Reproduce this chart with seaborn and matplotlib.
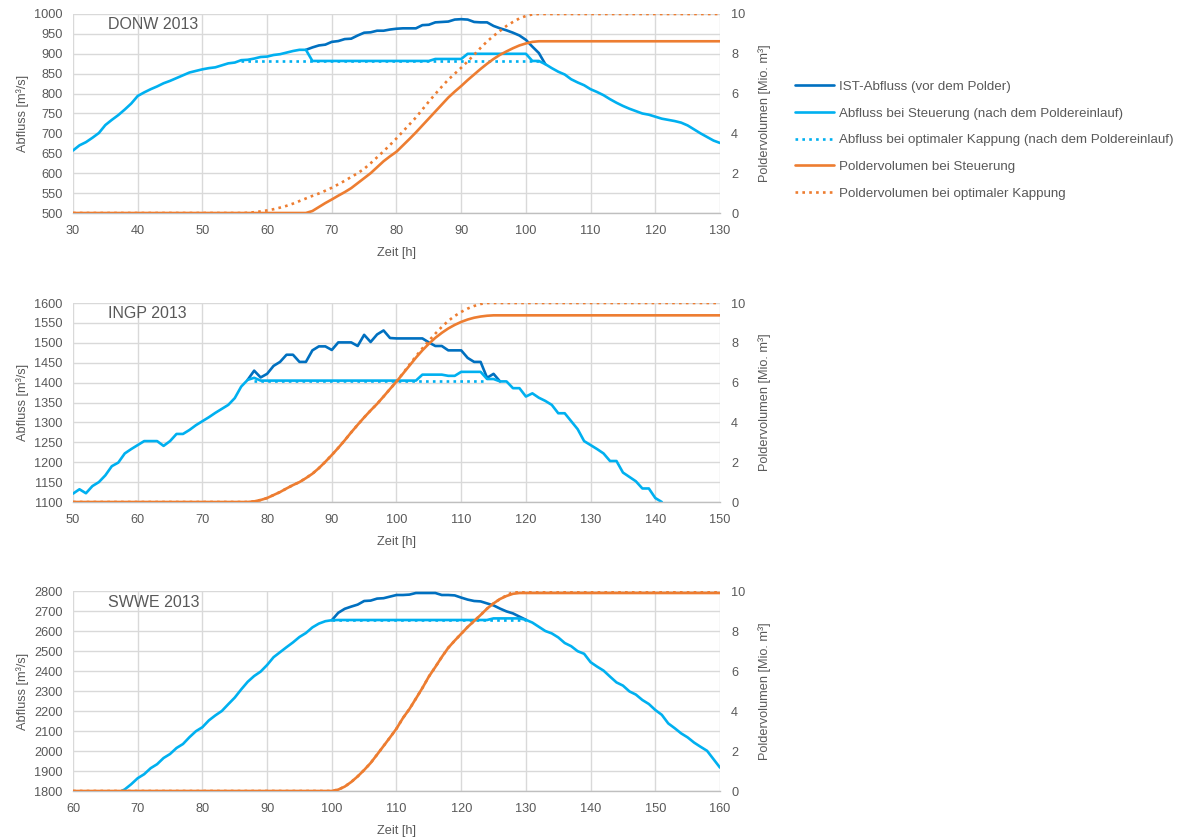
import matplotlib
matplotlib.use("Agg")
import matplotlib.pyplot as plt
import seaborn as sns

# ---------------------------------------------------------------------------
# Hydrograph data (hourly), three flood events 2013
# q = discharge [m³/s], v = polder volume [Mio. m³]
# ---------------------------------------------------------------------------

# DONW 2013
donw_steu_h = list(range(30, 67)) + [67, 85, 86, 90, 91, 100, 101] + list(range(102, 131))
donw_steu_q = [657, 670, 678, 689, 701, 721, 734, 746, 760, 775, 794, 803, 811, 818, 826,
               832, 839, 846, 853, 857, 861, 864, 866, 871, 876, 878, 884, 885, 888, 892,
               893, 897, 899, 903, 907, 910, 910,
               882, 882, 887, 887, 900, 900, 882,
               882, 874, 864, 855, 848, 836, 828, 821, 811, 804, 796, 786, 777, 769, 762,
               756, 750, 747, 742, 737, 734, 731, 727, 720, 710, 700, 691, 682, 676]
donw_ist_h = list(range(66, 104))
donw_ist_q = [910, 916, 921, 923, 930, 932, 937, 938, 946, 953, 954, 958, 958, 961, 963,
              964, 964, 964, 972, 973, 979, 980, 981, 986, 987, 986, 980, 979, 979, 970,
              964, 959, 953, 946, 935, 918, 902, 874]
donw_kapp_h = [56, 102]
donw_kapp_q = [882, 882]
donw_vsteu_h = [30, 66] + list(range(67, 103)) + [130]
donw_vsteu_v = [0, 0,
                0.1, 0.3, 0.5, 0.68, 0.87, 1.05, 1.25, 1.5, 1.75, 2.0, 2.3, 2.6, 2.85, 3.08,
                3.4, 3.72, 4.05, 4.4, 4.75, 5.1, 5.45, 5.8, 6.1, 6.38, 6.68, 6.96, 7.24, 7.5,
                7.74, 7.95, 8.12, 8.28, 8.42, 8.52, 8.6, 8.63,
                8.63]
donw_vkapp_h = [30, 56] + list(range(57, 103)) + [130]
donw_vkapp_v = [0, 0,
                0.01, 0.04, 0.08, 0.13, 0.19, 0.27, 0.36, 0.47, 0.6, 0.73, 0.86, 0.98, 1.12,
                1.27, 1.44, 1.62, 1.81, 2.0, 2.22, 2.5, 2.8, 3.1, 3.42, 3.75, 4.1, 4.45, 4.8,
                5.2, 5.6, 5.98, 6.35, 6.7, 7.0, 7.3, 7.62, 7.95, 8.3, 8.62, 8.9, 9.15, 9.4,
                9.6, 9.78, 9.9, 9.98, 10.0,
                10.0]

# INGP 2013
ingp_steu_h = list(range(50, 80)) + [103, 104, 107, 108, 109, 110, 113] + list(range(114, 142))
ingp_steu_q = [1121, 1132, 1122, 1140, 1150, 1167, 1190, 1199, 1222, 1233, 1243, 1253, 1253,
               1253, 1241, 1253, 1271, 1271, 1281, 1293, 1303, 1313, 1324, 1334, 1344, 1361,
               1390, 1407, 1412, 1405,
               1405, 1420, 1420, 1417, 1417, 1427, 1427,
               1409, 1409, 1403, 1403, 1386, 1386, 1365, 1373, 1362, 1354, 1344, 1323, 1323,
               1303, 1283, 1253, 1243, 1233, 1222, 1203, 1203, 1174, 1163, 1152, 1134, 1134,
               1110, 1100]
ingp_ist_h = list(range(77, 117))
ingp_ist_q = [1407, 1430, 1413, 1422, 1442, 1452, 1470, 1470, 1452, 1452, 1481, 1491, 1491,
              1482, 1501, 1501, 1501, 1492, 1520, 1502, 1521, 1531, 1512, 1511, 1511, 1511,
              1511, 1511, 1501, 1492, 1492, 1481, 1481, 1481, 1462, 1452, 1452, 1412, 1422,
              1403]
ingp_kapp_h = [78, 114]
ingp_kapp_q = [1405, 1405]
ingp_vsteu_h = [50, 77] + list(range(78, 116)) + [150]
ingp_vsteu_v = [0, 0,
                0.03, 0.1, 0.2, 0.35, 0.5, 0.68, 0.85, 1.0, 1.2, 1.42, 1.7, 2.02, 2.36, 2.72,
                3.1, 3.5, 3.88, 4.25, 4.6, 4.93, 5.3, 5.68, 6.05, 6.45, 6.85, 7.25, 7.62,
                7.95, 8.25, 8.5, 8.72, 8.9, 9.05, 9.17, 9.26, 9.32, 9.36, 9.38,
                9.38]
ingp_vkapp_h = [50, 77] + list(range(78, 115)) + [150]
ingp_vkapp_v = [0, 0,
                0.03, 0.1, 0.2, 0.35, 0.5, 0.68, 0.85, 1.0, 1.2, 1.42, 1.7, 2.02, 2.36, 2.72,
                3.1, 3.5, 3.88, 4.25, 4.6, 4.93, 5.3, 5.68, 6.05, 6.47, 6.9, 7.32, 7.72,
                8.1, 8.46, 8.8, 9.1, 9.35, 9.55, 9.72, 9.85, 9.95, 10.0,
                10.0]

# SWWE 2013
swwe_steu_h = list(range(67, 101)) + [101, 124, 125, 129] + list(range(130, 161))
swwe_steu_q = [1792, 1808, 1834, 1864, 1884, 1914, 1934, 1965, 1985, 2015, 2035, 2069, 2099,
               2119, 2153, 2178, 2200, 2234, 2267, 2308, 2346, 2375, 2397, 2430, 2469, 2494,
               2519, 2543, 2570, 2590, 2618, 2637, 2649, 2654,
               2655, 2655, 2663, 2663,
               2656, 2642, 2621, 2600, 2588, 2568, 2540, 2524, 2499, 2486, 2444, 2422, 2402,
               2372, 2343, 2327, 2298, 2282, 2255, 2235, 2205, 2181, 2138, 2114, 2088, 2068,
               2042, 2021, 2001, 1959, 1917]
swwe_ist_h = list(range(100, 131))
swwe_ist_q = [2654, 2691, 2711, 2722, 2732, 2750, 2752, 2762, 2764, 2772, 2780, 2780, 2782,
              2790, 2790, 2790, 2790, 2780, 2780, 2778, 2767, 2757, 2750, 2748, 2738, 2728,
              2712, 2698, 2688, 2672, 2656]
swwe_kapp_h = [100, 130]
swwe_kapp_q = [2655, 2655]
swwe_vsteu_h = [60, 100] + list(range(101, 130)) + [160]
swwe_vsteu_v = [0, 0,
                0.07, 0.22, 0.45, 0.73, 1.05, 1.4, 1.82, 2.25, 2.68, 3.12, 3.65, 4.1, 4.62,
                5.15, 5.72, 6.2, 6.7, 7.16, 7.52, 7.86, 8.2, 8.5, 8.8, 9.12, 9.38, 9.6, 9.75,
                9.86, 9.9,
                9.9]
swwe_vkapp_h = [60, 100] + list(range(101, 130)) + [160]
swwe_vkapp_v = [0, 0,
                0.07, 0.22, 0.45, 0.73, 1.05, 1.4, 1.82, 2.25, 2.68, 3.12, 3.65, 4.1, 4.62,
                5.15, 5.72, 6.2, 6.7, 7.16, 7.52, 7.86, 8.2, 8.5, 8.8, 9.12, 9.38, 9.6, 9.78,
                9.95, 10.0,
                10.0]

labels = ["IST-Abfluss (vor dem Polder)",
          "Abfluss bei Steuerung (nach dem Poldereinlauf)",
          "Abfluss bei optimaler Kappung (nach dem Poldereinlauf)",
          "Poldervolumen bei Steuerung",
          "Poldervolumen bei optimaler Kappung"]

panels = [
    dict(title="DONW 2013", xlim=(30, 130), ylim=(500, 1000), ystep=50,
         ist=(donw_ist_h, donw_ist_q), steu=(donw_steu_h, donw_steu_q),
         kapp=(donw_kapp_h, donw_kapp_q), vsteu=(donw_vsteu_h, donw_vsteu_v),
         vkapp=(donw_vkapp_h, donw_vkapp_v)),
    dict(title="INGP 2013", xlim=(50, 150), ylim=(1100, 1600), ystep=50,
         ist=(ingp_ist_h, ingp_ist_q), steu=(ingp_steu_h, ingp_steu_q),
         kapp=(ingp_kapp_h, ingp_kapp_q), vsteu=(ingp_vsteu_h, ingp_vsteu_v),
         vkapp=(ingp_vkapp_h, ingp_vkapp_v)),
    dict(title="SWWE 2013", xlim=(60, 160), ylim=(1800, 2800), ystep=100,
         ist=(swwe_ist_h, swwe_ist_q), steu=(swwe_steu_h, swwe_steu_q),
         kapp=(swwe_kapp_h, swwe_kapp_q), vsteu=(swwe_vsteu_h, swwe_vsteu_v),
         vkapp=(swwe_vkapp_h, swwe_vkapp_v)),
]

# ---------------------------------------------------------------------------
sns.set_theme(style="white")
plt.rcParams['font.family'] = ['Liberation Sans', 'DejaVu Sans']

C_IST = "#0070C0"
C_STEU = "#00B0F0"
C_VOL = "#ED7D31"
C_TEXT = "#595959"
C_GRID = "#D9D9D9"
LW = 1.9
DOT = (0, (1, 1.6))
FS = 9.2

fig = plt.figure(figsize=(11.81, 8.38), dpi=100)
W, H = 1181, 838
left_px, right_px = 73, 720
rows = [(14, 213), (303, 502), (591, 791)]

handles = None
for p, (top_px, bot_px) in zip(panels, rows):
    rect = [left_px / W, 1 - bot_px / H, (right_px - left_px) / W, (bot_px - top_px) / H]
    ax = fig.add_axes(rect)
    ax2 = ax.twinx()

    sns.lineplot(x=p["ist"][0], y=p["ist"][1], ax=ax, color=C_IST, lw=LW,
                 label=labels[0], legend=False)
    sns.lineplot(x=p["steu"][0], y=p["steu"][1], ax=ax, color=C_STEU, lw=LW,
                 label=labels[1], legend=False)
    sns.lineplot(x=p["kapp"][0], y=p["kapp"][1], ax=ax, color=C_STEU, lw=LW,
                 linestyle=DOT, dash_capstyle="butt", label=labels[2], legend=False)
    sns.lineplot(x=p["vsteu"][0], y=p["vsteu"][1], ax=ax2, color=C_VOL, lw=LW,
                 label=labels[3], legend=False)
    sns.lineplot(x=p["vkapp"][0], y=p["vkapp"][1], ax=ax2, color=C_VOL, lw=LW,
                 linestyle=DOT, dash_capstyle="butt", label=labels[4], legend=False)

    x0, x1 = p["xlim"]
    y0, y1 = p["ylim"]
    ax.set_xlim(x0, x1)
    ax.set_ylim(y0, y1)
    ax.set_xticks(range(x0, x1 + 1, 10))
    ax.set_yticks(range(y0, y1 + 1, p["ystep"]))
    ax2.set_ylim(0, 10)
    ax2.set_yticks(range(0, 11, 2))

    ax.grid(True, color=C_GRID, lw=1.0)
    ax.set_axisbelow(True)
    ax2.grid(False)
    for a in (ax, ax2):
        for s in a.spines.values():
            s.set_visible(False)
    ax.spines["bottom"].set_visible(True)
    ax.spines["bottom"].set_color("#BFBFBF")
    ax.spines["bottom"].set_linewidth(1.0)

    ax.tick_params(axis="x", length=0, pad=8.5, labelsize=FS, labelcolor=C_TEXT)
    ax.tick_params(axis="y", length=0, pad=7.5, labelsize=FS, labelcolor=C_TEXT)
    ax2.tick_params(axis="y", length=0, pad=8, labelsize=FS, labelcolor=C_TEXT)

    ax.set_xlabel("Zeit [h]", fontsize=FS, color=C_TEXT, labelpad=7.5)
    ax.set_ylabel("Abfluss [m³/s]", fontsize=FS, color=C_TEXT, labelpad=4)
    ax2.set_ylabel("Poldervolumen [Mio. m³]", fontsize=FS, color=C_TEXT, labelpad=9.5)

    ax.text(0.054, 0.945, p["title"], transform=ax.transAxes, fontsize=11.5,
            color=C_TEXT, ha="left", va="center")

    if handles is None:
        h1, l1 = ax.get_legend_handles_labels()
        h2, l2 = ax2.get_legend_handles_labels()
        handles = (h1 + h2, l1 + l2)

fig.legend(handles[0], handles[1], loc="upper left", bbox_to_anchor=(795 / W, 1 - 80.5 / H),
           frameon=False, fontsize=9.6, labelcolor=C_TEXT, handlelength=2.9,
           handletextpad=0.4, labelspacing=1.08, borderpad=0, borderaxespad=0)

fig.savefig("out.png", dpi=100, facecolor="white")
